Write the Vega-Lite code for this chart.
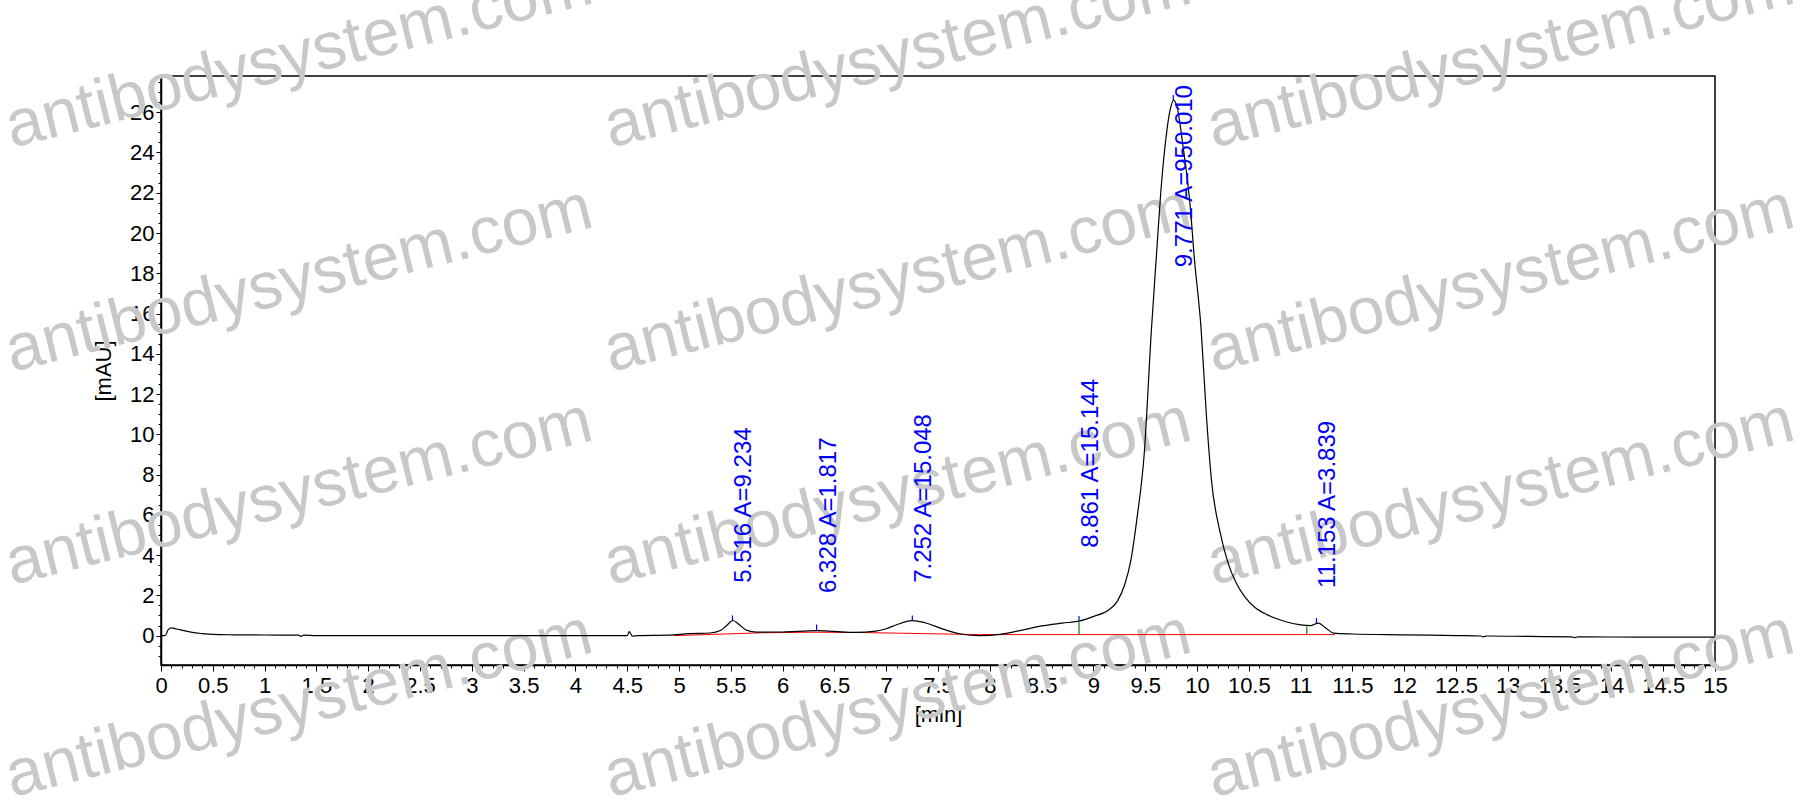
{
  "$schema": "https://vega.github.io/schema/vega-lite/v6.json",
  "description": "SEC chromatogram with integrated peaks",
  "width": 1554,
  "height": 589,
  "autosize": {"type": "none"},
  "padding": {"left": 161, "top": 76, "right": 97, "bottom": 140},
  "background": "white",
  "config": {
    "view": {"stroke": "black", "strokeWidth": 1.5},
    "font": "Liberation Sans",
    "axis": {
      "zindex": 1,
      "grid": false,
      "domainColor": "black",
      "domainWidth": 1.5,
      "tickColor": "black",
      "tickWidth": 1,
      "labelColor": "black",
      "labelFont": "Liberation Sans",
      "labelFontSize": 22,
      "titleFont": "Liberation Sans",
      "titleFontSize": 22,
      "titleFontWeight": "normal",
      "titleColor": "black"
    }
  },
  "datasets": {
    "trace": [
      {"t": 0, "v": 0}, {"t": 0.04, "v": 0}, {"t": 0.07, "v": 0.3}, {"t": 0.1, "v": 0.38},
      {"t": 0.15, "v": 0.33}, {"t": 0.2, "v": 0.27}, {"t": 0.3, "v": 0.16}, {"t": 0.4, "v": 0.1},
      {"t": 0.5, "v": 0.06}, {"t": 0.7, "v": 0.04}, {"t": 1.0, "v": 0.03}, {"t": 1.33, "v": 0.02},
      {"t": 1.35, "v": -0.04}, {"t": 1.38, "v": 0.02}, {"t": 1.5, "v": 0}, {"t": 2, "v": 0},
      {"t": 2.5, "v": 0}, {"t": 3, "v": 0}, {"t": 3.5, "v": 0}, {"t": 4, "v": 0},
      {"t": 4.5, "v": 0}, {"t": 4.52, "v": 0.2}, {"t": 4.55, "v": -0.03}, {"t": 4.6, "v": 0},
      {"t": 4.9, "v": 0.02}, {"t": 5.1, "v": 0.1}, {"t": 5.3, "v": 0.13}, {"t": 5.4, "v": 0.25},
      {"t": 5.46, "v": 0.5}, {"t": 5.52, "v": 0.75}, {"t": 5.58, "v": 0.55}, {"t": 5.65, "v": 0.27},
      {"t": 5.75, "v": 0.17}, {"t": 6.0, "v": 0.18}, {"t": 6.2, "v": 0.22}, {"t": 6.33, "v": 0.25},
      {"t": 6.5, "v": 0.21}, {"t": 6.7, "v": 0.16}, {"t": 6.9, "v": 0.22}, {"t": 7.0, "v": 0.34},
      {"t": 7.1, "v": 0.54}, {"t": 7.25, "v": 0.74}, {"t": 7.4, "v": 0.6}, {"t": 7.55, "v": 0.32},
      {"t": 7.72, "v": 0.08}, {"t": 7.9, "v": 0}, {"t": 8.1, "v": 0.06}, {"t": 8.3, "v": 0.26},
      {"t": 8.5, "v": 0.48}, {"t": 8.7, "v": 0.62}, {"t": 8.87, "v": 0.73}, {"t": 9.0, "v": 0.95},
      {"t": 9.14, "v": 1.25}, {"t": 9.23, "v": 1.7}, {"t": 9.3, "v": 2.5}, {"t": 9.36, "v": 3.7},
      {"t": 9.42, "v": 5.8}, {"t": 9.49, "v": 9.0}, {"t": 9.56, "v": 15.2}, {"t": 9.61, "v": 19.0},
      {"t": 9.65, "v": 22.0}, {"t": 9.7, "v": 24.7}, {"t": 9.74, "v": 26.1}, {"t": 9.775, "v": 26.6},
      {"t": 9.81, "v": 26.2}, {"t": 9.86, "v": 24.5}, {"t": 9.94, "v": 21.0}, {"t": 9.97, "v": 19.0},
      {"t": 10.04, "v": 15.2}, {"t": 10.09, "v": 11.0}, {"t": 10.14, "v": 7.7}, {"t": 10.22, "v": 5.2},
      {"t": 10.3, "v": 3.6}, {"t": 10.38, "v": 2.6}, {"t": 10.46, "v": 1.94}, {"t": 10.56, "v": 1.4},
      {"t": 10.68, "v": 1.03}, {"t": 10.85, "v": 0.7}, {"t": 11.0, "v": 0.53}, {"t": 11.1, "v": 0.5},
      {"t": 11.17, "v": 0.62}, {"t": 11.25, "v": 0.35}, {"t": 11.32, "v": 0.12}, {"t": 11.5, "v": 0.08},
      {"t": 12, "v": 0.04}, {"t": 12.5, "v": 0}, {"t": 12.74, "v": -0.02}, {"t": 12.76, "v": -0.06},
      {"t": 12.8, "v": -0.02}, {"t": 13.2, "v": -0.04}, {"t": 13.62, "v": -0.06}, {"t": 13.64, "v": -0.1},
      {"t": 13.68, "v": -0.06}, {"t": 14, "v": -0.07}, {"t": 14.5, "v": -0.08}, {"t": 15, "v": -0.08}
    ],
    "baseline": [
      {"t": 4.95, "v": 0}, {"t": 5.8, "v": 0.14}, {"t": 6.3, "v": 0.17}, {"t": 6.8, "v": 0.15},
      {"t": 7.9, "v": 0.05}, {"t": 11.33, "v": 0.05}
    ],
    "ticks": [
      {"t": 5.516, "v": 0.75, "v2": 1.0, "c": "apex"},
      {"t": 6.328, "v": 0.25, "v2": 0.55, "c": "apex"},
      {"t": 7.252, "v": 0.74, "v2": 1.0, "c": "apex"},
      {"t": 8.861, "v": 0.73, "v2": 0.98, "c": "apex"},
      {"t": 9.771, "v": 26.6, "v2": 26.85, "c": "apex"},
      {"t": 11.153, "v": 0.62, "v2": 0.87, "c": "apex"},
      {"t": 8.861, "v": 0.05, "v2": 0.73, "c": "bound"},
      {"t": 11.06, "v": 0.05, "v2": 0.45, "c": "bound"}
    ],
    "labels": [
      {"t": 5.516, "v": 2.62, "text": "5.516 A=9.234"},
      {"t": 6.328, "v": 2.12, "text": "6.328 A=1.817"},
      {"t": 7.252, "v": 2.62, "text": "7.252 A=15.048"},
      {"t": 8.861, "v": 4.36, "text": "8.861 A=15.144"},
      {"t": 9.771, "v": 18.3, "text": "9.771 A=950.010"},
      {"t": 11.153, "v": 2.37, "text": "11.153 A=3.839"}
    ],
    "watermark": [
      {"t": -1.44, "v": 24.23, "text": "antibodysystem.com"},
      {"t": 4.34, "v": 24.23, "text": "antibodysystem.com"},
      {"t": 10.16, "v": 24.23, "text": "antibodysystem.com"},
      {"t": -1.44, "v": 13.1, "text": "antibodysystem.com"},
      {"t": 4.34, "v": 13.1, "text": "antibodysystem.com"},
      {"t": 10.16, "v": 13.1, "text": "antibodysystem.com"},
      {"t": -1.44, "v": 2.52, "text": "antibodysystem.com"},
      {"t": 4.34, "v": 2.52, "text": "antibodysystem.com"},
      {"t": 10.16, "v": 2.52, "text": "antibodysystem.com"},
      {"t": -1.44, "v": -8.03, "text": "antibodysystem.com"},
      {"t": 4.34, "v": -8.03, "text": "antibodysystem.com"},
      {"t": 10.16, "v": -8.03, "text": "antibodysystem.com"}
    ]
  },
  "encoding": {
    "x": {"field": "t", "type": "quantitative", "scale": {"domain": [0, 15], "nice": false, "zero": false}, "axis": null},
    "y": {"field": "v", "type": "quantitative", "scale": {"domain": [-1.46, 27.8], "nice": false, "zero": false}, "axis": null}
  },
  "layer": [
    {
      "data": {"name": "watermark"},
      "mark": {"type": "text", "align": "left", "baseline": "alphabetic", "angle": 346, "fontSize": 66, "color": "#c8c8c8", "font": "Liberation Sans"},
      "encoding": {"text": {"field": "text"}}
    },
    {
      "data": {"name": "baseline"},
      "mark": {"type": "line", "color": "#ff0000", "strokeWidth": 1},
      "encoding": {
        "x": {"field": "t", "type": "quantitative", "scale": {"domain": [0, 15], "nice": false, "zero": false},
              "axis": {"orient": "bottom", "values": [0.1,0.2,0.3,0.4,0.6,0.7,0.8,0.9,1.1,1.2,1.3,1.4,1.6,1.7,1.8,1.9,2.1,2.2,2.3,2.4,2.6,2.7,2.8,2.9,3.1,3.2,3.3,3.4,3.6,3.7,3.8,3.9,4.1,4.2,4.3,4.4,4.6,4.7,4.8,4.9,5.1,5.2,5.3,5.4,5.6,5.7,5.8,5.9,6.1,6.2,6.3,6.4,6.6,6.7,6.8,6.9,7.1,7.2,7.3,7.4,7.6,7.7,7.8,7.9,8.1,8.2,8.3,8.4,8.6,8.7,8.8,8.9,9.1,9.2,9.3,9.4,9.6,9.7,9.8,9.9,10.1,10.2,10.3,10.4,10.6,10.7,10.8,10.9,11.1,11.2,11.3,11.4,11.6,11.7,11.8,11.9,12.1,12.2,12.3,12.4,12.6,12.7,12.8,12.9,13.1,13.2,13.3,13.4,13.6,13.7,13.8,13.9,14.1,14.2,14.3,14.4,14.6,14.7,14.8,14.9], "labels": false, "tickSize": 3, "domain": false, "title": null}},
        "y": {"field": "v", "type": "quantitative", "scale": {"domain": [-1.46, 27.8], "nice": false, "zero": false},
              "axis": {"orient": "left", "values": [-1,-0.5,0.5,1,1.5,2.5,3,3.5,4.5,5,5.5,6.5,7,7.5,8.5,9,9.5,10.5,11,11.5,12.5,13,13.5,14.5,15,15.5,16.5,17,17.5,18.5,19,19.5,20.5,21,21.5,22.5,23,23.5,24.5,25,25.5,26.5,27,27.5], "labels": false, "tickSize": 3, "domain": false, "title": null}}
      }
    },
    {
      "data": {"name": "trace"},
      "mark": {"type": "line", "color": "black", "strokeWidth": 1.2, "interpolate": "monotone"},
      "encoding": {
        "x": {"field": "t", "type": "quantitative", "scale": {"domain": [0, 15], "nice": false, "zero": false},
              "axis": {"orient": "bottom", "title": "[min]", "values": [0,0.5,1,1.5,2,2.5,3,3.5,4,4.5,5,5.5,6,6.5,7,7.5,8,8.5,9,9.5,10,10.5,11,11.5,12,12.5,13,13.5,14,14.5,15], "format": "~g", "tickSize": 6, "labelPadding": 4, "titlePadding": 8, "labelFlush": false, "labelOverlap": false}},
        "y": {"field": "v", "type": "quantitative", "scale": {"domain": [-1.46, 27.8], "nice": false, "zero": false},
              "axis": {"orient": "left", "title": "[mAU]", "values": [0,2,4,6,8,10,12,14,16,18,20,22,24,26], "format": "~g", "tickSize": 5, "labelPadding": 2, "titlePadding": 14, "labelFlush": false, "labelOverlap": false}}
      }
    },
    {
      "data": {"name": "ticks"},
      "mark": {"type": "rule", "strokeWidth": 1.2},
      "encoding": {
        "y2": {"field": "v2"},
        "color": {"field": "c", "type": "nominal", "scale": {"domain": ["apex", "bound"], "range": ["#0000ff", "#008000"]}, "legend": null}
      }
    },
    {
      "data": {"name": "labels"},
      "mark": {"type": "text", "align": "left", "baseline": "top", "angle": 270, "fontSize": 24, "color": "#0000ff", "font": "Liberation Sans"},
      "encoding": {"text": {"field": "text"}}
    }
  ],
  "resolve": {"axis": {"x": "independent", "y": "independent"}}
}
